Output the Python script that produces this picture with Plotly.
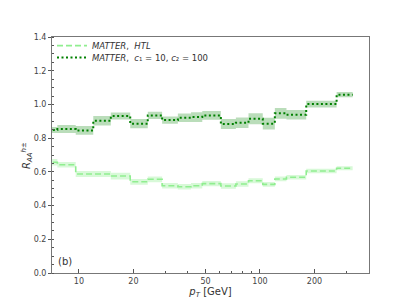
import numpy as np
import plotly.graph_objects as go

# bin edges in pT [GeV]
pt_edges = [6.4, 7.6, 9.6, 12, 15, 19.2, 24, 28.8, 35.2, 41.6, 48, 60.8,
            73.6, 86.4, 103.6, 120.8, 140, 180, 265, 325]

# MATTER, HTL
raa_htl = [0.657, 0.642, 0.587, 0.587, 0.575, 0.541, 0.556, 0.518, 0.512, 0.518,
           0.530, 0.516, 0.528, 0.547, 0.526, 0.558, 0.568, 0.605, 0.621]
err_htl = [0.020, 0.016, 0.018, 0.018, 0.020, 0.017, 0.017, 0.016, 0.016, 0.016,
           0.016, 0.016, 0.016, 0.015, 0.014, 0.014, 0.013, 0.013, 0.012]

# MATTER, c1 = 10, c2 = 100
raa_c = [0.848, 0.854, 0.846, 0.903, 0.931, 0.886, 0.935, 0.907, 0.921, 0.925,
         0.935, 0.884, 0.891, 0.915, 0.886, 0.947, 0.939, 1.002, 1.058]
err_c = [0.018, 0.024, 0.026, 0.028, 0.021, 0.027, 0.022, 0.022, 0.025, 0.029,
         0.026, 0.030, 0.031, 0.032, 0.035, 0.032, 0.028, 0.020, 0.015]

y_ticks = [0.0, 0.2, 0.4, 0.6, 0.8, 1.0, 1.2, 1.4]
x_ticks = [10, 20, 50, 100, 200]


def step(vals):
    # values repeated so the last bin is closed with hv shape
    return list(vals) + [vals[-1]]


fig = go.Figure()


def add_band(vals, errs, band_color):
    v = np.array(vals)
    e = np.array(errs)
    fig.add_trace(go.Scatter(x=pt_edges, y=step(v - e), mode='lines', line_shape='hv',
                             line=dict(width=0), showlegend=False, hoverinfo='skip'))
    fig.add_trace(go.Scatter(x=pt_edges, y=step(v + e), mode='lines', line_shape='hv',
                             line=dict(width=0), fill='tonexty', fillcolor=band_color,
                             showlegend=False, hoverinfo='skip'))


add_band(raa_htl, err_htl, 'rgba(144,238,144,0.35)')
add_band(raa_c, err_c, 'rgba(0,128,0,0.27)')

fig.add_trace(go.Scatter(x=pt_edges, y=step(raa_htl), mode='lines', line_shape='hv',
                         line=dict(color='#90ee90', width=1.6, dash='6px,3px'),
                         name='<i>MATTER</i>,  <i>HTL</i>', legend='legend'))
fig.add_trace(go.Scatter(x=pt_edges, y=step(raa_c), mode='lines', line_shape='hv',
                         line=dict(color='#008000', width=2, dash='2px,2.5px'),
                         name='<i>MATTER</i>,  <i>c</i>₁ = 10, <i>c</i>₂ = 100', legend='legend2'))

fig.add_annotation(x=np.log10(7.45), y=0.07, xref='x', yref='y', text='(b)', showarrow=False,
                   xanchor='left', font=dict(size=10, color='#333'))

# y-axis title as an annotation so it sits where the reference has it
fig.add_annotation(x=-0.079, y=0.5, xref='paper', yref='paper', showarrow=False,
                   text='<i>R</i><sub><i>AA</i></sub><sup><i>h</i>±</sup>', textangle=-90,
                   xanchor='center', yanchor='middle', font=dict(size=10, color='#333'))

axis_common = dict(showgrid=False, zeroline=False, showline=True, linecolor='#777',
                   linewidth=1, mirror=True, tickfont=dict(size=8, color='#444'),
                   tickcolor='#555', automargin=False)

fig.update_xaxes(type='log', range=[np.log10(7.1), np.log10(400)],
                 tickvals=x_ticks, ticktext=[str(t) for t in x_ticks],
                 ticks='inside', ticklen=4,
                 minor=dict(tickvals=[30, 40, 60, 70, 80, 90, 300], ticks='inside',
                            ticklen=2, tickcolor='#555'),
                 title=dict(text='<i>p</i><sub><i>T</i></sub> [GeV]', font=dict(size=10, color='#333'),
                            standoff=3),
                 **axis_common)
fig.update_yaxes(range=[0, 1.4], tickvals=y_ticks, ticktext=['%.1f' % t for t in y_ticks],
                 ticks='outside', ticklen=3,
                 minor=dict(dtick=0.05, ticks='inside', ticklen=2, tickcolor='#555'),
                 **axis_common)

legend_style = dict(xanchor='left', yanchor='top', bgcolor='rgba(0,0,0,0)',
                    font=dict(size=8.5, color='#333'), itemwidth=30)

# page body has an 8px margin, so the figure is sized to fit the rest of the window
fig.update_layout(width=403, height=300, margin=dict(l=44, r=42, t=29, b=35),
                  plot_bgcolor='white', paper_bgcolor='white',
                  font=dict(family='DejaVu Sans'),
                  legend=dict(x=0.0, y=1.025, **legend_style),
                  legend2=dict(x=0.0, y=0.975, **legend_style))

fig.write_html("out.html")
